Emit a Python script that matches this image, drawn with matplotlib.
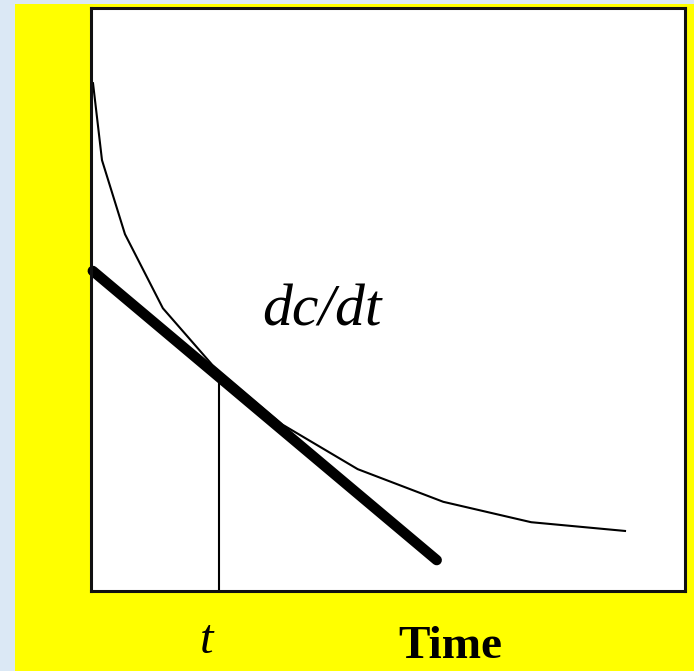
import matplotlib
matplotlib.use('Agg')
import matplotlib.pyplot as plt
from matplotlib.patches import Rectangle

# concentration decay curve (time, concentration), arbitrary units 0..100
time_pts = [0.34, 1.85, 5.72, 12.1, 20.4, 32.3, 44.9, 59.3, 74.1, 89.9]
conc_pts = [87.1, 73.9, 61.2, 48.5, 38.8, 28.5, 20.9, 15.3, 11.8, 10.3]

# tangent line at time t
tangent_time = [0.3, 58.2]
tangent_conc = [54.9, 5.3]
t_mark = 21.5
t_mark_conc = 37.6

W, H = 694, 671
fig = plt.figure(figsize=(W / 100, H / 100), dpi=100)
fig.patch.set_facecolor('#dbe8f5')

# yellow slide panel
fig.patches.append(Rectangle((15 / W, 0), 1 - 15 / W, 1 - 4 / H,
                             transform=fig.transFigure, facecolor='#ffff00',
                             edgecolor='none', zorder=-5))

ax = fig.add_axes([91 / W, 1 - 591 / H, 594 / W, 583 / H])
ax.set_zorder(2)
ax.set_facecolor('white')
ax.set_xlim(0, 100)
ax.set_ylim(0, 100)
ax.set_xticks([])
ax.set_yticks([])
for s in ax.spines.values():
    s.set_linewidth(2.2)
    s.set_color('#111111')

ax.plot(time_pts, conc_pts, color='black', lw=1.5, solid_joinstyle='round')
ax.plot(tangent_time, tangent_conc, color='black', lw=7.5,
        solid_capstyle='round', clip_on=False)
ax.plot([t_mark, t_mark], [0, t_mark_conc], color='black', lw=1.5)

serif = ['Liberation Serif', 'DejaVu Serif']
fig.text(262 / W, 1 - 326 / H, 'dc/dt', family=serif, style='italic',
         fontsize=43, va='baseline', ha='left', zorder=5)
fig.text(200 / W, 1 - 653 / H, 't', family=serif, style='italic',
         fontsize=35, va='baseline', ha='left', zorder=5)
fig.text(398 / W, 1 - 658 / H, 'Time', family=serif, weight='bold',
         fontsize=34, va='baseline', ha='left', zorder=5)

fig.savefig('out.png', dpi=100, facecolor=fig.get_facecolor())
